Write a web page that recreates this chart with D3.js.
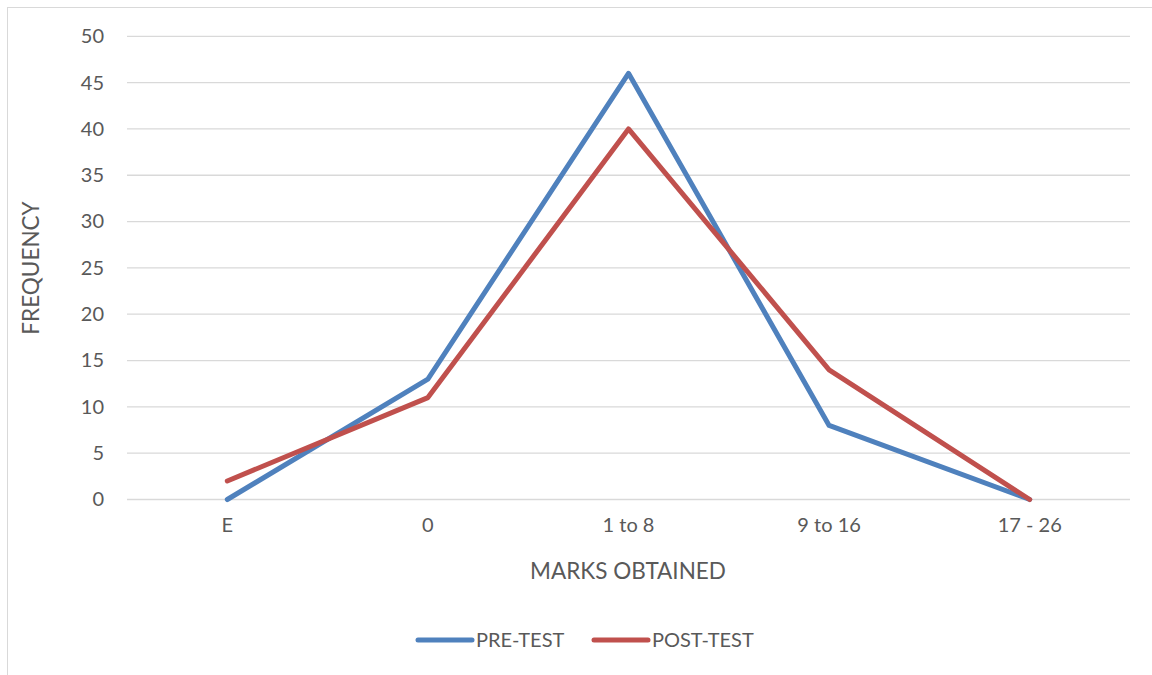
<!DOCTYPE html>
<html>
<head>
<meta charset="utf-8">
<script src="https://cdn.jsdelivr.net/npm/d3@7"></script>
<style>
  body { margin: 0; background: #fff; }
  text { font-family: Lato, sans-serif; fill: #595959; }
</style>
</head>
<body>
<div id="chart"></div>
<script>
// data
var categories = ["E", "0", "1 to 8", "9 to 16", "17 - 26"];
var preTest = [0, 13, 46, 8, 0];
var postTest = [2, 11, 40, 14, 0];
var yTicks = [0, 5, 10, 15, 20, 25, 30, 35, 40, 45, 50];
var seriesNames = ["PRE-TEST", "POST-TEST"];
var seriesColors = ["#4F81BD", "#C0504D"];

var width = 1152, height = 675;
var fontSize = '20px';
var titleSize = '22.5px';

var svg = d3.select('#chart').append('svg')
  .attr('width', width)
  .attr('height', height);

// chart border
svg.append('rect')
  .attr('x', 7.5).attr('y', 7.5)
  .attr('width', 1160).attr('height', 700)
  .attr('fill', 'none')
  .attr('stroke', '#d9d9d9')
  .attr('stroke-width', 1);

var x = d3.scaleBand().domain(categories).range([127, 1130]);
var y = d3.scaleLinear().domain([0, 50]).range([499.5, 36.3]);

// gridlines
svg.append('g').selectAll('line')
  .data(yTicks)
  .enter().append('line')
  .attr('x1', 127).attr('x2', 1130)
  .attr('y1', function(d) { return y(d); })
  .attr('y2', function(d) { return y(d); })
  .attr('stroke', '#d9d9d9')
  .attr('stroke-width', 1.3);

// y axis labels
var yAxis = d3.axisLeft(y).tickValues(yTicks).tickSize(0).tickPadding(23);
var gy = svg.append('g').attr('transform', 'translate(127,0)').call(yAxis);
gy.select('.domain').remove();
gy.selectAll('text').style('font-size', fontSize).attr('fill', '#595959')
  .style('font-family', 'Lato, sans-serif');

// x axis labels
var xAxis = d3.axisBottom(x).tickSize(0).tickPadding(18);
var gx = svg.append('g').attr('transform', 'translate(0,499.5)').call(xAxis);
gx.select('.domain').remove();
gx.selectAll('text').style('font-size', fontSize).attr('fill', '#595959')
  .style('font-family', 'Lato, sans-serif');

// axis titles
svg.append('text')
  .attr('x', 628).attr('y', 579)
  .attr('text-anchor', 'middle')
  .style('font-size', titleSize)
  .text('MARKS OBTAINED');

svg.append('text')
  .attr('transform', 'translate(39,268) rotate(-90)')
  .attr('text-anchor', 'middle')
  .style('font-size', titleSize)
  .text('FREQUENCY');

// lines
var line = d3.line()
  .x(function(d, i) { return x(categories[i]) + x.bandwidth() / 2; })
  .y(function(d) { return y(d); });

[preTest, postTest].forEach(function(s, i) {
  svg.append('path')
    .datum(s)
    .attr('d', line)
    .attr('fill', 'none')
    .attr('stroke', seriesColors[i])
    .attr('stroke-width', 5)
    .attr('stroke-linejoin', 'round')
    .attr('stroke-linecap', 'round');
});

// legend
var legendX = [418, 594];
seriesNames.forEach(function(name, i) {
  svg.append('line')
    .attr('x1', legendX[i]).attr('x2', legendX[i] + 54)
    .attr('y1', 640).attr('y2', 640)
    .attr('stroke', seriesColors[i])
    .attr('stroke-width', 5)
    .attr('stroke-linecap', 'round');
  svg.append('text')
    .attr('x', legendX[i] + 58).attr('y', 647)
    .style('font-size', fontSize)
    .text(name);
});
</script>
</body>
</html>
